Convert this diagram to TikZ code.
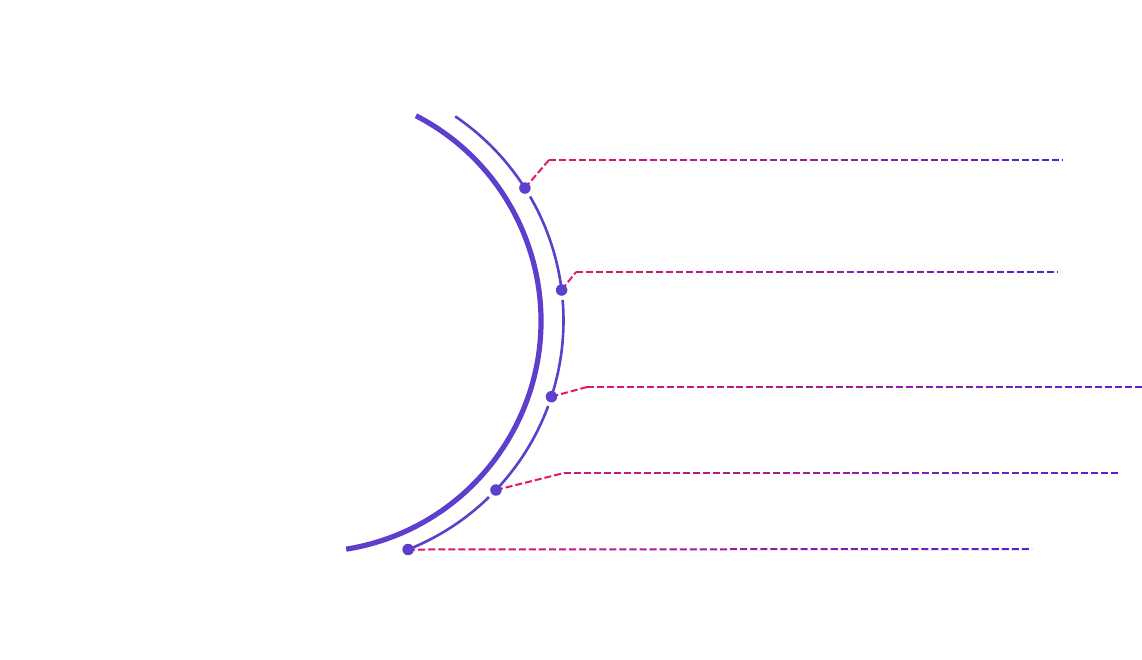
\documentclass[tikz,border=0pt]{standalone}
\usetikzlibrary{calc,backgrounds}
\definecolor{arcc}{RGB}{94,62,204}
\definecolor{gA}{RGB}{226,24,108}
\definecolor{gB}{RGB}{86,34,204}
\tikzset{
  thickarc/.style={line width=5.2pt, draw=arcc},
  thinarc/.style={line width=2.6pt, draw=arcc},
  dotnode/.style={circle, fill=arcc, inner sep=0pt, minimum size=11.5pt},
  dline/.style={line width=2pt, dash pattern=on 7pt off 3pt},
}
% #1 dot node, #2 bend, #3 end, #4 dot x, #5 bend x, #6 end x
\newcommand\gradline[6]{%
  \draw[dline, color=gA] (#1.center) -- (#2);
  \pgfmathtruncatemacro\nn{round((#6-#5)/10)}
  \foreach \k in {1,...,\nn}{
    \pgfmathsetmacro\fa{(\k-1)/\nn}
    \pgfmathsetmacro\fb{\k/\nn}
    \pgfmathsetmacro\fr{((#5-#4)/(#6-#4)) + ((\k-0.5)/\nn)*((#6-#5)/(#6-#4))}
    \pgfmathtruncatemacro\pc{100*\fr}
    \draw[dline, color=gB!\pc!gA] ($(#2)!\fa!(#3)$) -- ($(#2)!\fb!(#3)$);
  }%
}
\begin{document}
\begin{tikzpicture}[x=1pt,y=1pt]
\useasboundingbox (0,0) rectangle (1142,660);
\coordinate (c0) at (310,339);
\coordinate (c1) at (317,339.5);
% thick arc
\draw[thickarc] ($(c0)+(62.7:231)$) arc[start angle=62.7, end angle=-81, radius=231];
% thin arc segments
\draw[thinarc] ($(c1)+(55.9:246.5)$) arc[start angle=55.9, end angle=32.5, radius=246.5];
\draw[thinarc] ($(c1)+(30.2:246.5)$) arc[start angle=30.2, end angle=7.1, radius=246.5];
\draw[thinarc] ($(c1)+(4.8:246.5)$) arc[start angle=4.8, end angle=-18.0, radius=246.5];
\draw[thinarc] ($(c1)+(-20.3:246.5)$) arc[start angle=-20.3, end angle=-43.45, radius=246.5];
\draw[thinarc] ($(c1)+(-45.75:246.5)$) arc[start angle=-45.75, end angle=-68.3, radius=246.5];
% dots
\node[dotnode] (d1) at ($(c1)+(32.5:246.5)$) {};
\node[dotnode] (d2) at ($(c1)+(7.1:246.5)$) {};
\node[dotnode] (d3) at ($(c1)+(-18.0:246.5)$) {};
\node[dotnode] (d4) at ($(c1)+(-43.45:246.5)$) {};
\node[dotnode] (d5) at ($(c1)+(-68.3:246.5)$) {};
% bends and ends
\coordinate (b1) at (549,500);
\coordinate (b2) at (576,388);
\coordinate (b3) at (587,273);
\coordinate (b4) at (564,187);
\coordinate (e1) at (1062,500);
\coordinate (e2) at (1057,388);
\coordinate (e3) at (1145,273);
\coordinate (e4) at (1121,187);
\coordinate (e5) at (1032,111);
\begin{pgfonlayer}{background}
\gradline{d1}{b1}{e1}{525}{549}{1062}
\gradline{d2}{b2}{e2}{561}{576}{1057}
\gradline{d3}{b3}{e3}{552}{587}{1145}
\gradline{d4}{b4}{e4}{497}{564}{1121}
\gradline{d5}{d5.center}{e5}{408}{408}{1032}
\end{pgfonlayer}
\end{tikzpicture}
\end{document}
